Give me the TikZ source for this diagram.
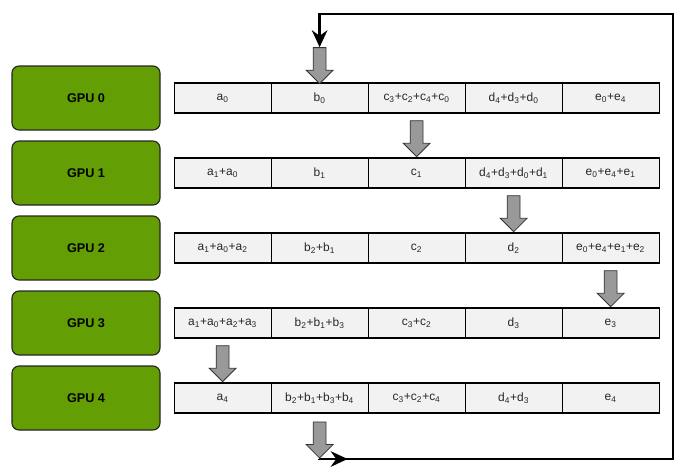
\documentclass[tikz,border=0pt]{standalone}
\usepackage{fontspec}
\setmainfont{Liberation Sans}
\usetikzlibrary{arrows.meta,positioning,shapes.arrows,calc}

\definecolor{gpugreen}{RGB}{98,158,4}
\definecolor{cellgray}{RGB}{242,242,242}

\begin{document}
\begin{tikzpicture}[node distance=2.425cm,>={Stealth[length=12pt,width=11pt]}]
  \tikzstyle{gpu}=[draw=black!85,fill=gpugreen,rounded corners=5pt,line width=0.8pt,
    minimum width=3.7cm,minimum height=1.6cm,font=\fontsize{9}{11}\selectfont\bfseries]
  \tikzstyle{cell}=[draw=black,fill=cellgray,line width=0.8pt,minimum width=2.425cm,
    minimum height=0.75cm,inner sep=0pt,font=\fontsize{8.5}{10}\selectfont,text=black!85]
  \tikzstyle{move}=[single arrow,draw=black!80,fill=black!40,rotate=-90,line width=0.6pt,
    minimum height=0.9cm,minimum width=0.65cm,single arrow head extend=0.175cm,inner sep=0.15cm]
  \tikzstyle{ring}=[line width=2pt,black]

  \useasboundingbox (0,0) rectangle (17.15,11.85);

  \node[gpu] (g0) at (2.15,9.4)   {GPU 0};
  \node[gpu] (g1) at (2.15,7.525) {GPU 1};
  \node[gpu] (g2) at (2.15,5.65)  {GPU 2};
  \node[gpu] (g3) at (2.15,3.775) {GPU 3};
  \node[gpu] (g4) at (2.15,1.9)   {GPU 4};

  \node[cell] (a0) [right=0.325cm of g0] {a\textsubscript{0}};
  \node[cell] (b0) [right of=a0] {b\textsubscript{0}};
  \node[cell] (c0) [right of=b0] {c\textsubscript{3}+c\textsubscript{2}+c\textsubscript{4}+c\textsubscript{0}};
  \node[cell] (d0) [right of=c0] {d\textsubscript{4}+d\textsubscript{3}+d\textsubscript{0}};
  \node[cell] (e0) [right of=d0] {e\textsubscript{0}+e\textsubscript{4}};

  \node[cell] (a1) [right=0.325cm of g1] {a\textsubscript{1}+a\textsubscript{0}};
  \node[cell] (b1) [right of=a1] {b\textsubscript{1}};
  \node[cell] (c1) [right of=b1] {c\textsubscript{1}};
  \node[cell] (d1) [right of=c1] {d\textsubscript{4}+d\textsubscript{3}+d\textsubscript{0}+d\textsubscript{1}};
  \node[cell] (e1) [right of=d1] {e\textsubscript{0}+e\textsubscript{4}+e\textsubscript{1}};

  \node[cell] (a2) [right=0.325cm of g2] {a\textsubscript{1}+a\textsubscript{0}+a\textsubscript{2}};
  \node[cell] (b2) [right of=a2] {b\textsubscript{2}+b\textsubscript{1}};
  \node[cell] (c2) [right of=b2] {c\textsubscript{2}};
  \node[cell] (d2) [right of=c2] {d\textsubscript{2}};
  \node[cell] (e2) [right of=d2] {e\textsubscript{0}+e\textsubscript{4}+e\textsubscript{1}+e\textsubscript{2}};

  \node[cell] (a3) [right=0.325cm of g3] {a\textsubscript{1}+a\textsubscript{0}+a\textsubscript{2}+a\textsubscript{3}};
  \node[cell] (b3) [right of=a3] {b\textsubscript{2}+b\textsubscript{1}+b\textsubscript{3}};
  \node[cell] (c3) [right of=b3] {c\textsubscript{3}+c\textsubscript{2}};
  \node[cell] (d3) [right of=c3] {d\textsubscript{3}};
  \node[cell] (e3) [right of=d3] {e\textsubscript{3}};

  \node[cell] (a4) [right=0.325cm of g4] {a\textsubscript{4}};
  \node[cell] (b4) [right of=a4] {b\textsubscript{2}+b\textsubscript{1}+b\textsubscript{3}+b\textsubscript{4}};
  \node[cell] (c4) [right of=b4] {c\textsubscript{3}+c\textsubscript{2}+c\textsubscript{4}};
  \node[cell] (d4) [right of=c4] {d\textsubscript{4}+d\textsubscript{3}};
  \node[cell] (e4) [right of=d4] {e\textsubscript{4}};

  % block arrows between the rows
  \node[move] (bin)  at ($(b0.north)+(0,0.5)$) {};
  \node[move] (c01)  at ($(c0.south)!0.5!(c1.north)$) {};
  \node[move] (d12)  at ($(d1.south)!0.5!(d2.north)$) {};
  \node[move] (e23)  at ($(e2.south)!0.5!(e3.north)$) {};
  \node[move] (a34)  at ($(a3.south)!0.5!(a4.north)$) {};
  \node[move] (bout) at ($(b4.south)-(0,0.58)$) {};

  % the ring back to the top
  \coordinate (br) at (16.825,0.375);
  \coordinate (tr) at (16.825,11.5);
  \draw[ring,->] (bout.tip) |- (br) -- (tr) -| (bin.tail);
  \draw[ring,->] (bout.tip |- br) -- ++(0.7,0);
\end{tikzpicture}
\end{document}
